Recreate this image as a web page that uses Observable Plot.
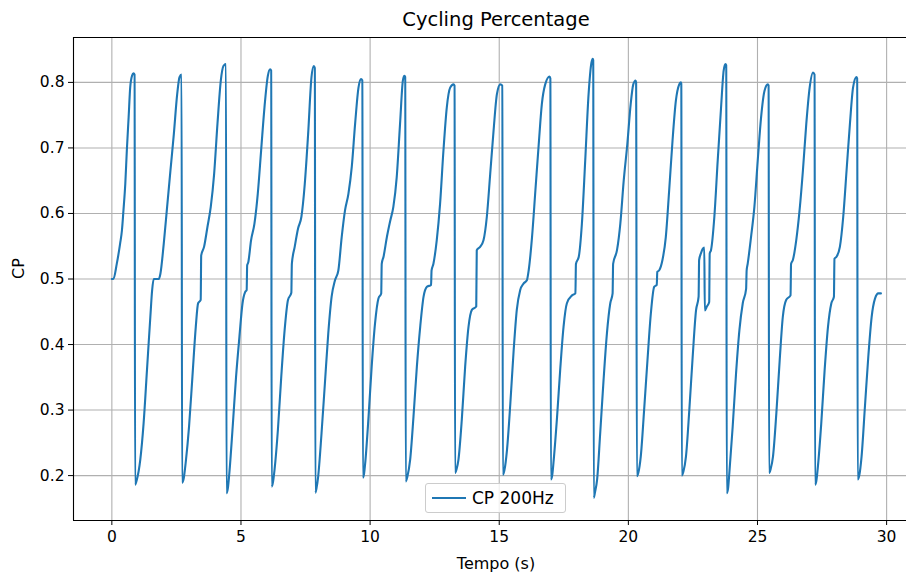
<!DOCTYPE html>
<html>
<head>
<meta charset="utf-8">
<script src="https://cdn.jsdelivr.net/npm/d3@7"></script>
<script src="https://cdn.jsdelivr.net/npm/@observablehq/plot@0.6"></script>
<style>
  html, body { margin: 0; padding: 0; background: #fff; overflow: hidden; }
  #wrap { position: relative; width: 906px; height: 573px; }
  #legend { position: absolute; left: 425px; top: 483px; width: 139px; height: 28px;
            border: 1px solid #cccccc; border-radius: 3px; background: rgba(255,255,255,0.8);
            font-family: "DejaVu Sans", sans-serif; font-size: 17px; color: #000; }
  #legend .swatch { position: absolute; left: 6px; top: 13px; width: 34px; height: 2px; background: #1f77b4; }
  #legend .lbl { position: absolute; left: 46px; top: 4px; line-height: 20px; white-space: nowrap; }
</style>
</head>
<body>
<div id="wrap"><div id="chart"></div>
  <div id="legend"><div class="swatch"></div><div class="lbl">CP 200Hz</div></div>
</div>
<script>
const title = "Cycling Percentage";
const xLabel = "Tempo (s)";
const yLabel = "CP";
const seriesName = "CP 200Hz";
const xTicks = [0, 5, 10, 15, 20, 25, 30];
const yTicks = [0.2, 0.3, 0.4, 0.5, 0.6, 0.7, 0.8];

const tempo = [
  0, 0.06, 0.19, 0.32, 0.39, 0.45, 0.52, 0.58, 0.65, 0.71, 0.78, 0.84, 0.88,
  0.90, 0.97, 1.10, 1.23, 1.36, 1.49, 1.56, 1.62, 1.82, 1.88, 2.01, 2.14, 2.27, 2.40, 2.53, 2.62, 2.70,
  2.72, 2.78, 2.86, 2.99, 3.12, 3.25, 3.34, 3.44, 3.46, 3.57, 3.70, 3.83, 3.96, 4.09, 4.22, 4.32, 4.42,
  4.44, 4.49, 4.55, 4.68, 4.81, 4.94, 5.06, 5.16, 5.22, 5.24, 5.28, 5.39, 5.52, 5.65, 5.78, 5.91, 6.04, 6.13, 6.17,
  6.19, 6.24, 6.30, 6.43, 6.56, 6.69, 6.82, 6.95, 6.97, 7.08, 7.21, 7.34, 7.47, 7.60, 7.73, 7.82, 7.86,
  7.88, 7.93, 7.99, 8.12, 8.25, 8.38, 8.51, 8.64, 8.77, 8.90, 9.03, 9.16, 9.29, 9.42, 9.55, 9.65, 9.70,
  9.72, 9.77, 9.81, 9.94, 10.06, 10.19, 10.32, 10.43, 10.45, 10.52, 10.65, 10.78, 10.90, 11.03, 11.16, 11.27, 11.33, 11.36,
  11.38, 11.44, 11.55, 11.68, 11.81, 11.94, 12.07, 12.20, 12.36, 12.38, 12.45, 12.58, 12.71, 12.84, 12.97, 13.10, 13.23, 13.27,
  13.29, 13.35, 13.42, 13.55, 13.68, 13.81, 13.94, 14.11, 14.13, 14.26, 14.39, 14.52, 14.65, 14.78, 14.91, 15.04, 15.12,
  15.14, 15.20, 15.30, 15.43, 15.56, 15.68, 15.81, 15.94, 16.07, 16.14, 16.27, 16.40, 16.53, 16.65, 16.78, 16.95, 16.98,
  17.00, 17.05, 17.11, 17.24, 17.36, 17.49, 17.62, 17.82, 17.95, 17.97, 18.08, 18.20, 18.33, 18.46, 18.57, 18.62, 18.64,
  18.66, 18.71, 18.79, 18.91, 19.04, 19.17, 19.30, 19.39, 19.41, 19.56, 19.69, 19.82, 19.96, 20.09, 20.19, 20.28, 20.30,
  20.33, 20.39, 20.48, 20.61, 20.74, 20.87, 21.00, 21.10, 21.12, 21.19, 21.32, 21.45, 21.58, 21.71, 21.84, 21.97, 22.03, 22.05,
  22.07, 22.13, 22.23, 22.36, 22.49, 22.62, 22.72, 22.74, 22.81, 22.88, 22.94, 22.96, 23.04, 23.13, 23.15, 23.20, 23.33, 23.46, 23.59, 23.69, 23.76, 23.79,
  23.81, 23.86, 23.91, 24.04, 24.17, 24.30, 24.43, 24.56, 24.58, 24.62, 24.75, 24.88, 25.01, 25.14, 25.27, 25.40, 25.43,
  25.45, 25.51, 25.60, 25.73, 25.86, 25.98, 26.11, 26.28, 26.30, 26.37, 26.50, 26.63, 26.76, 26.89, 27.02, 27.15, 27.21,
  27.23, 27.28, 27.34, 27.47, 27.60, 27.73, 27.86, 27.96, 27.98, 28.06, 28.19, 28.32, 28.45, 28.58, 28.70, 28.83, 28.86,
  28.88, 28.94, 29.03, 29.16, 29.29, 29.42, 29.55, 29.68, 29.78
];

const cp = [
  0.500, 0.500, 0.523, 0.554, 0.574, 0.605, 0.645, 0.696, 0.747, 0.792, 0.810, 0.814, 0.812,
  0.186, 0.194, 0.224, 0.280, 0.361, 0.442, 0.483, 0.500, 0.500, 0.508, 0.554, 0.610, 0.666, 0.721, 0.782, 0.808, 0.812,
  0.189, 0.195, 0.220, 0.275, 0.351, 0.427, 0.463, 0.468, 0.536, 0.549, 0.579, 0.610, 0.660, 0.737, 0.803, 0.825, 0.828,
  0.173, 0.180, 0.204, 0.275, 0.351, 0.412, 0.463, 0.480, 0.483, 0.521, 0.525, 0.559, 0.584, 0.630, 0.696, 0.762, 0.810, 0.820, 0.818,
  0.183, 0.190, 0.209, 0.270, 0.351, 0.422, 0.468, 0.479, 0.523, 0.549, 0.577, 0.595, 0.645, 0.721, 0.808, 0.825, 0.822,
  0.174, 0.182, 0.199, 0.265, 0.341, 0.417, 0.473, 0.498, 0.513, 0.564, 0.605, 0.630, 0.671, 0.737, 0.792, 0.805, 0.803,
  0.197, 0.204, 0.219, 0.290, 0.366, 0.432, 0.470, 0.478, 0.523, 0.534, 0.564, 0.589, 0.610, 0.655, 0.737, 0.803, 0.810, 0.808,
  0.191, 0.198, 0.224, 0.290, 0.366, 0.427, 0.473, 0.488, 0.491, 0.513, 0.523, 0.559, 0.615, 0.696, 0.762, 0.792, 0.797, 0.795,
  0.204, 0.210, 0.224, 0.285, 0.366, 0.427, 0.453, 0.458, 0.544, 0.549, 0.559, 0.595, 0.660, 0.726, 0.782, 0.797, 0.795,
  0.201, 0.208, 0.239, 0.310, 0.392, 0.453, 0.483, 0.493, 0.498, 0.513, 0.564, 0.635, 0.706, 0.767, 0.797, 0.809, 0.806,
  0.194, 0.200, 0.224, 0.290, 0.361, 0.427, 0.463, 0.475, 0.478, 0.523, 0.534, 0.584, 0.681, 0.782, 0.830, 0.836, 0.834,
  0.166, 0.175, 0.194, 0.265, 0.346, 0.417, 0.463, 0.478, 0.523, 0.544, 0.585, 0.650, 0.706, 0.767, 0.797, 0.803, 0.800,
  0.199, 0.205, 0.229, 0.300, 0.376, 0.447, 0.488, 0.491, 0.511, 0.513, 0.529, 0.564, 0.635, 0.711, 0.772, 0.797, 0.800, 0.798,
  0.200, 0.206, 0.229, 0.300, 0.381, 0.452, 0.473, 0.529, 0.539, 0.546, 0.548, 0.452, 0.458, 0.465, 0.539, 0.544, 0.595, 0.681, 0.762, 0.818, 0.828, 0.826,
  0.173, 0.180, 0.204, 0.275, 0.356, 0.422, 0.463, 0.485, 0.513, 0.523, 0.564, 0.610, 0.681, 0.747, 0.787, 0.797, 0.795,
  0.204, 0.210, 0.229, 0.295, 0.376, 0.442, 0.468, 0.475, 0.523, 0.529, 0.559, 0.605, 0.666, 0.737, 0.792, 0.815, 0.812,
  0.186, 0.192, 0.214, 0.280, 0.361, 0.427, 0.463, 0.473, 0.531, 0.534, 0.549, 0.595, 0.666, 0.737, 0.792, 0.808, 0.806,
  0.194, 0.200, 0.229, 0.305, 0.381, 0.442, 0.470, 0.478, 0.478
];

const data = tempo.map((t, i) => ({t, v: cp[i]}));
const xDomain = [-1.485, 30.77];
const yDomain = [0.1315, 0.8685];
const font = "DejaVu Sans";

const plot = Plot.plot({
  width: 906,
  height: 573,
  marginLeft: 73,
  marginRight: 0,
  marginTop: 37,
  marginBottom: 53,
  style: {fontFamily: font, fontSize: "15.5px", color: "#000", background: "#fff", overflow: "visible"},
  x: {domain: xDomain, ticks: xTicks, tickSize: 5, tickPadding: 5, tickFormat: d => String(d), label: null},
  y: {domain: yDomain, ticks: yTicks, tickSize: 5, tickPadding: 4, tickFormat: d3.format(".1f"), label: null},
  marks: [
    Plot.ruleX(xTicks, {stroke: "#b0b0b0", strokeWidth: 1.1}),
    Plot.ruleY(yTicks, {stroke: "#b0b0b0", strokeWidth: 1.1}),
    Plot.line(data, {x: "t", y: "v", stroke: "#1f77b4", strokeWidth: 2.1, curve: "monotone-x"}),
    Plot.ruleX([xDomain[0]], {stroke: "#000", strokeWidth: 1.1}),
    Plot.ruleY([yDomain[0], yDomain[1]], {stroke: "#000", strokeWidth: 1.1}),
    Plot.text([title], {frameAnchor: "top", dx: 6, dy: -18, fontSize: 19.5, fill: "#000", lineAnchor: "middle"}),
    Plot.text([xLabel], {frameAnchor: "bottom", dx: 6, dy: 43, fontSize: 16, fill: "#000", lineAnchor: "middle"}),
    Plot.text([yLabel], {frameAnchor: "left", dx: -55, dy: 0, rotate: -90, fontSize: 16, fill: "#000", lineAnchor: "middle"})
  ]
});
document.getElementById("chart").appendChild(plot);
document.querySelector("#legend .lbl").textContent = seriesName;
</script>
</body>
</html>
